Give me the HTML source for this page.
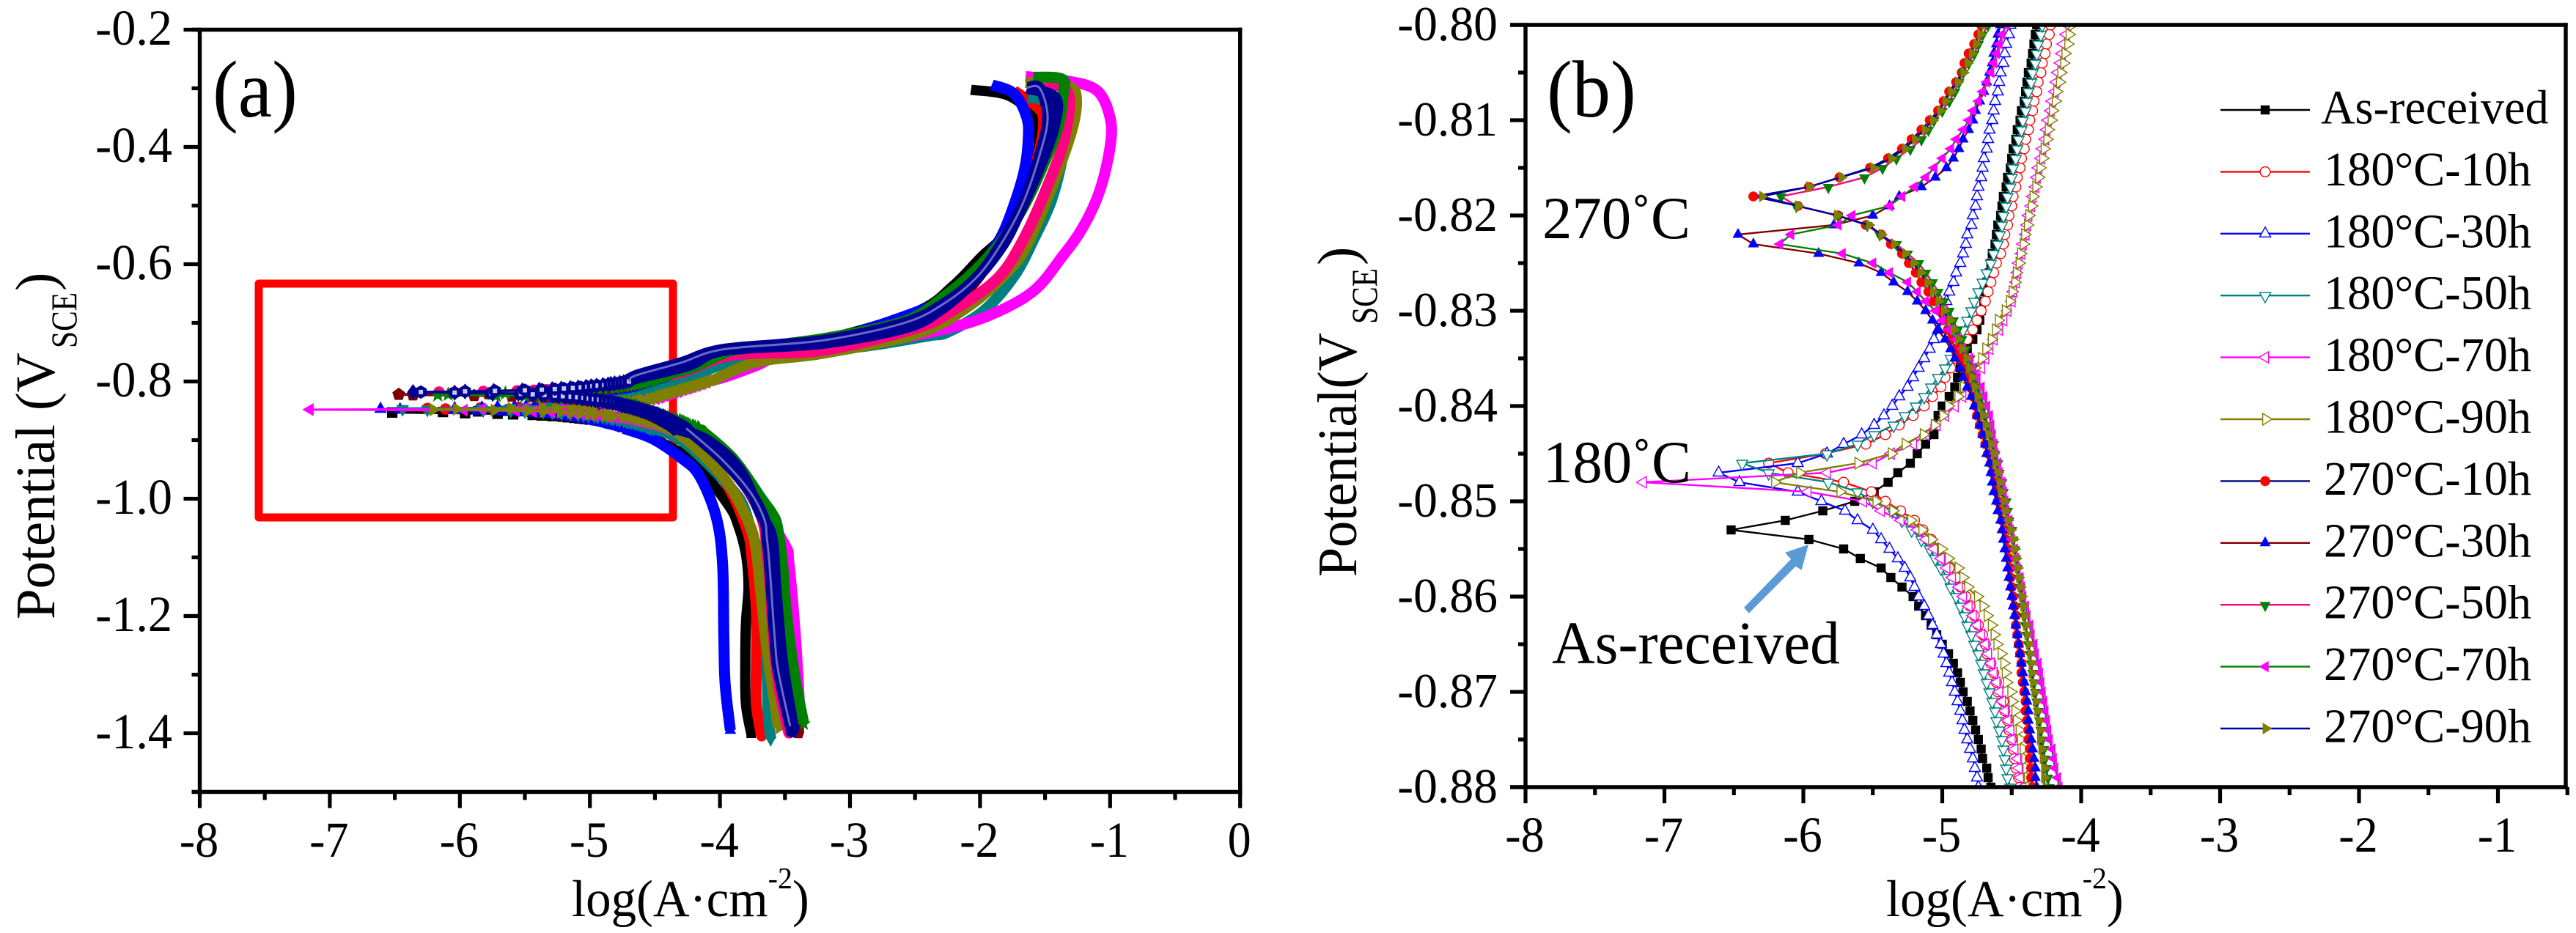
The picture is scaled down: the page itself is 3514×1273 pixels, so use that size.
<!DOCTYPE html>
<html lang="en">
<head>
<meta charset="utf-8">
<title>Potentiodynamic polarization curves</title>
<style>
html,body{margin:0;padding:0;background:#fff;width:3514px;height:1273px;overflow:hidden}
svg{display:block}
text{font-family:"Liberation Serif",serif;fill:#000}
</style>
</head>
<body>
<svg id="figure" xmlns="http://www.w3.org/2000/svg" width="3514" height="1273" viewBox="0 0 3514 1273">
  <rect width="3514" height="1273" fill="#fff"/>
  <defs>
    <clipPath id="plotb-clip"><rect x="2081" y="34" width="1419" height="1040"/></clipPath>
  </defs>
  <g id="panel-a">
    <rect x="353" y="387" width="565" height="319" fill="none" stroke="#ff0000" stroke-width="11" stroke-linejoin="round"/>
    <g id="a-series"></g>
    <g id="a-axes"></g>
    <text transform="translate(290,159) scale(.95,1)" font-size="110">(a)</text>
    <text transform="translate(74,845) rotate(-90) scale(.985,1)" font-size="76">Potential (V</text>
    <text transform="translate(104,475) rotate(-90) scale(.83,1)" font-size="50">SCE</text>
    <text transform="translate(74,397) rotate(-90)" font-size="76">)</text>
    <text transform="translate(780,1250) scale(.97,1)" font-size="71">log(A·cm<tspan font-size="41" dy="-38">-2</tspan><tspan dy="38">)</tspan></text>
  </g>
  <g id="panel-b">
    <g id="b-series" clip-path="url(#plotb-clip)"></g>
    <g id="b-axes"></g>
    <text transform="translate(2110,159) scale(.95,1)" font-size="110">(b)</text>
    <text transform="translate(2104,325) scale(.985,1)" font-size="82">270˚C</text>
    <text transform="translate(2105,658) scale(.985,1)" font-size="82">180˚C</text>
    <text transform="translate(2117,905) scale(.98,1)" font-size="83">As-received</text>
    <polygon fill="#5b9bd5" points="2467,743 2457.6,777.7 2449.5,772.7 2385.7,836.7 2379,829 2443,763 2435,754"/>
    <text transform="translate(1850,787) rotate(-90) scale(.95,1)" font-size="76">Potential(V</text>
    <text transform="translate(1878,442) rotate(-90) scale(.83,1)" font-size="50">SCE</text>
    <text transform="translate(1850,362) rotate(-90)" font-size="76">)</text>
    <text transform="translate(2573,1250) scale(.97,1)" font-size="71">log(A·cm<tspan font-size="41" dy="-38">-2</tspan><tspan dy="38">)</tspan></text>
    <g id="legend"></g>
  </g>
</svg>
<script>
/* ---------- Values: log current, one entry per 1 mV step ---------- */
const seriesLabels=["As-received","180°C-10h","180°C-30h","180°C-50h","180°C-70h","180°C-90h","270°C-10h","270°C-30h","270°C-50h","270°C-70h","270°C-90h"];
const seriesEcorr=[-0.853,-0.846,-0.847,-0.846,-0.848,-0.848,-0.818,-0.822,-0.818,-0.823,-0.818];
const stepV=0.001;

const asReceivedAnodic=[-6.52,-6.13,-5.86,-5.63,-5.49,-5.39,-5.32,-5.23,-5.18,-5.12,-5.06,-5.05,-5.03,-5.00,-4.95,-4.91,-4.89,-4.87,-4.85,-4.82,-4.78,-4.75,-4.73,-4.72,-4.70,-4.69,-4.68,-4.66,-4.65,-4.64,-4.62,-4.61,-4.60,-4.58,-4.57,-4.56,-4.54,-4.53,-4.51,-4.50,-4.49,-4.47,-4.46,-4.44,-4.43,-4.41,-4.40,-4.39,-4.38,-4.36,-4.35,-4.34,-4.33,-4.32];
const asReceivedCathodic=[-5.96,-5.71,-5.59,-5.44,-5.37,-5.29,-5.21,-5.17,-5.12,-5.08,-5.04,-5.00,-4.955,-4.92,-4.89,-4.87,-4.85,-4.82,-4.80,-4.78,-4.76,-4.74,-4.72,-4.71,-4.68,-4.67,-4.65];
const t180h10Anodic=[-6.25,-5.84,-5.55,-5.41,-5.31,-5.21,-5.13,-5.07,-5.01,-4.98,-4.94,-4.90,-4.86,-4.82,-4.78,-4.75,-4.72,-4.69,-4.67,-4.65,-4.63,-4.61,-4.58,-4.56,-4.55,-4.53,-4.52,-4.50,-4.49,-4.47,-4.46,-4.44,-4.43,-4.41,-4.40,-4.38,-4.37,-4.35,-4.34,-4.32,-4.31,-4.29,-4.28,-4.26,-4.25,-4.23,-4.22];
const t180h10Cathodic=[-6.11,-5.71,-5.51,-5.41,-5.30,-5.20,-5.14,-5.08,-5.03,-4.99,-4.95,-4.90,-4.87,-4.83,-4.80,-4.77,-4.74,-4.71,-4.69,-4.68,-4.65,-4.63,-4.61,-4.60,-4.56,-4.55,-4.53,-4.52,-4.50,-4.49,-4.48,-4.47,-4.45,-4.44];
const t180h30Anodic=[-6.61,-6.04,-5.83,-5.71,-5.58,-5.49,-5.42,-5.36,-5.31,-5.25,-5.21,-5.17,-5.13,-5.09,-5.06,-5.03,-5.00,-4.98,-4.97,-4.95,-4.92,-4.90,-4.87,-4.85,-4.83,-4.82,-4.79,-4.78,-4.76,-4.75,-4.74,-4.72,-4.71,-4.70,-4.68,-4.67,-4.66,-4.64,-4.63,-4.62,-4.60,-4.59,-4.58,-4.56,-4.55,-4.54,-4.52,-4.51];
const t180h30Cathodic=[-6.46,-6.04,-5.87,-5.70,-5.61,-5.50,-5.44,-5.38,-5.32,-5.27,-5.23,-5.20,-5.17,-5.13,-5.10,-5.07,-5.04,-5.01,-4.99,-4.97,-4.95,-4.93,-4.91,-4.89,-4.87,-4.855,-4.84,-4.82,-4.80,-4.78,-4.765,-4.75,-4.74];
const t180h50Anodic=[-6.44,-5.83,-5.61,-5.49,-5.35,-5.27,-5.19,-5.13,-5.08,-5.03,-4.98,-4.94,-4.90,-4.87,-4.85,-4.82,-4.79,-4.77,-4.74,-4.71,-4.68,-4.65,-4.63,-4.60,-4.585,-4.57,-4.56,-4.54,-4.53,-4.51,-4.50,-4.49,-4.47,-4.46,-4.45,-4.43,-4.42,-4.40,-4.39,-4.38,-4.36,-4.35,-4.33,-4.32,-4.31,-4.29,-4.28];
const t180h50Cathodic=[-6.25,-5.82,-5.61,-5.50,-5.36,-5.29,-5.22,-5.15,-5.09,-5.05,-5.01,-4.965,-4.94,-4.90,-4.87,-4.84,-4.82,-4.79,-4.77,-4.74,-4.72,-4.70,-4.68,-4.66,-4.64,-4.62,-4.61,-4.59,-4.57,-4.56,-4.55,-4.54,-4.53,-4.51];
const t180h70Anodic=[-7.155,-5.83,-5.50,-5.37,-5.21,-5.12,-5.04,-4.98,-4.91,-4.855,-4.82,-4.78,-4.72,-4.69,-4.66,-4.63,-4.59,-4.56,-4.53,-4.50,-4.49,-4.47,-4.46,-4.45,-4.43,-4.42,-4.40,-4.39,-4.38,-4.36,-4.35,-4.33,-4.32,-4.31,-4.29,-4.28,-4.26,-4.25,-4.24,-4.22,-4.21,-4.19,-4.18,-4.17,-4.15,-4.14,-4.13,-4.11,-4.10];
const t180h70Cathodic=[-5.97,-5.57,-5.44,-5.30,-5.18,-5.12,-5.06,-5.01,-4.97,-4.93,-4.88,-4.85,-4.81,-4.78,-4.75,-4.72,-4.69,-4.67,-4.65,-4.63,-4.61,-4.59,-4.57,-4.55,-4.53,-4.51,-4.50,-4.48,-4.46,-4.45,-4.44,-4.42];
const t180h90Anodic=[-6.21,-6.03,-5.61,-5.37,-5.27,-5.14,-5.06,-5.00,-4.96,-4.89,-4.85,-4.81,-4.77,-4.72,-4.69,-4.65,-4.62,-4.60,-4.55,-4.52,-4.50,-4.48,-4.47,-4.45,-4.44,-4.42,-4.41,-4.39,-4.38,-4.36,-4.35,-4.33,-4.31,-4.30,-4.28,-4.27,-4.25,-4.24,-4.22,-4.21,-4.19,-4.18,-4.16,-4.15,-4.13,-4.12,-4.10,-4.09,-4.07];
const t180h90Cathodic=[-5.74,-5.48,-5.36,-5.23,-5.15,-5.08,-5.01,-4.96,-4.89,-4.855,-4.82,-4.75,-4.71,-4.68,-4.65,-4.63,-4.61,-4.58,-4.56,-4.55,-4.54,-4.51,-4.50,-4.48,-4.47,-4.45,-4.44,-4.42,-4.41,-4.40,-4.39,-4.38];
const t270h10Anodic=[-6.36,-5.96,-5.74,-5.52,-5.39,-5.29,-5.22,-5.15,-5.09,-5.03,-4.99,-4.95,-4.90,-4.86,-4.84,-4.81,-4.77,-4.74,-4.72];
const t270h10Cathodic=[-6.04,-5.75,-5.55,-5.44,-5.37,-5.29,-5.24,-5.19,-5.15,-5.10,-5.06,-5.02,-4.99,-4.96,-4.94,-4.90,-4.87,-4.85,-4.82,-4.80,-4.78,-4.76,-4.75,-4.73,-4.71,-4.69,-4.67,-4.65,-4.64,-4.62,-4.61,-4.60,-4.58,-4.57,-4.55,-4.54,-4.53,-4.52,-4.51,-4.51,-4.50,-4.49,-4.48,-4.47,-4.47,-4.46,-4.45,-4.44,-4.43,-4.43,-4.42,-4.41,-4.40,-4.40,-4.39,-4.38,-4.38,-4.37,-4.37,-4.36,-4.36,-4.35];
const t270h30Anodic=[-6.47,-5.78,-5.50,-5.38,-5.31,-5.15,-5.05,-4.97,-4.92,-4.88,-4.85,-4.81,-4.78,-4.76,-4.73,-4.70,-4.68,-4.66,-4.64,-4.63,-4.61,-4.60,-4.58];
const t270h30Cathodic=[-6.36,-5.89,-5.60,-5.44,-5.35,-5.25,-5.18,-5.12,-5.07,-5.03,-4.98,-4.94,-4.91,-4.87,-4.85,-4.82,-4.79,-4.77,-4.75,-4.73,-4.71,-4.69,-4.68,-4.66,-4.65,-4.64,-4.63,-4.61,-4.60,-4.58,-4.57,-4.56,-4.55,-4.54,-4.53,-4.52,-4.51,-4.50,-4.49,-4.48,-4.47,-4.46,-4.45,-4.44,-4.43,-4.42,-4.41,-4.40,-4.39,-4.38,-4.38,-4.37,-4.36,-4.35,-4.34,-4.33,-4.33,-4.32];
const t270h50Anodic=[-6.16,-5.82,-5.56,-5.43,-5.33,-5.23,-5.15,-5.10,-5.06,-5.00,-4.95,-4.91,-4.88,-4.85,-4.81,-4.77,-4.74,-4.71,-4.67];
const t270h50Cathodic=[-6.05,-5.75,-5.54,-5.45,-5.33,-5.25,-5.17,-5.12,-5.07,-5.03,-4.99,-4.95,-4.92,-4.89,-4.86,-4.83,-4.80,-4.78,-4.76,-4.74,-4.72,-4.70,-4.69,-4.67,-4.65,-4.63,-4.62,-4.60,-4.59,-4.57,-4.56,-4.54,-4.53,-4.52,-4.50,-4.49,-4.48,-4.47,-4.46,-4.45,-4.44,-4.43,-4.42,-4.41,-4.40,-4.39,-4.38,-4.37,-4.36,-4.35,-4.34,-4.33,-4.32,-4.31,-4.30,-4.29,-4.28,-4.27,-4.26,-4.25,-4.24,-4.23];
const t270h70Anodic=[-6.17,-6.09,-5.75,-5.65,-5.38,-5.29,-5.20,-5.12,-5.06,-5.00,-4.94,-4.90,-4.85,-4.81,-4.78,-4.74,-4.71,-4.68,-4.65,-4.63,-4.61,-4.59,-4.57,-4.54];
const t270h70Cathodic=[-5.72,-5.50,-5.38,-5.25,-5.18,-5.12,-5.05,-5.00,-4.95,-4.90,-4.855,-4.80,-4.78,-4.75,-4.72,-4.70,-4.68,-4.66,-4.65,-4.64,-4.63,-4.62,-4.60,-4.59,-4.57,-4.56,-4.55,-4.54,-4.52,-4.51,-4.50,-4.48,-4.47,-4.46,-4.44,-4.43,-4.42,-4.40,-4.39,-4.37,-4.36,-4.34,-4.33,-4.31,-4.30,-4.29,-4.28,-4.27,-4.26,-4.25,-4.24,-4.23,-4.21,-4.20,-4.19,-4.17,-4.16];
const t270h90Anodic=[-6.30,-5.96,-5.73,-5.50,-5.37,-5.27,-5.20,-5.13,-5.07,-5.02,-4.98,-4.94,-4.89,-4.85,-4.82,-4.79,-4.76,-4.73,-4.70];
const t270h90Cathodic=[-6.04,-5.76,-5.53,-5.44,-5.35,-5.27,-5.21,-5.16,-5.11,-5.07,-5.03,-4.99,-4.95,-4.92,-4.89,-4.86,-4.83,-4.81,-4.79,-4.77,-4.75,-4.73,-4.71,-4.69,-4.67,-4.65,-4.63,-4.62,-4.60,-4.59,-4.58,-4.56,-4.55,-4.53,-4.51,-4.49,-4.48,-4.47,-4.46,-4.45,-4.44,-4.43,-4.42,-4.41,-4.40,-4.39,-4.38,-4.37,-4.36,-4.36,-4.35,-4.34,-4.33,-4.32,-4.31,-4.30,-4.30,-4.29,-4.28,-4.27,-4.27,-4.26];

/* ---------- Values (a) beyond the zoomed window: [log current, potential] ---------- */
const asReceivedFarUp=[[-4.15,-.775],[-3.97,-.75],[-3.2,-.728],[-2.49,-.681],[-2.21,-.6375],[-1.99,-.5875],[-1.82,-.55],[-1.65,-.475],[-1.55,-.40],[-1.59,-.35],[-1.78,-.3125],[-2.07,-.3025]];
const asReceivedFarDown=[[-4.41,-.909],[-4.20,-.9375],[-3.94,-1.009],[-3.86,-1.045],[-3.80,-1.095],[-3.78,-1.15],[-3.80,-1.2125],[-3.805,-1.284],[-3.80,-1.35],[-3.76,-1.40]];
const t180h10FarUp=[[-4.05,-.775],[-3.8,-.75],[-3.21,-.732],[-2.32,-.675],[-2.04,-.619],[-1.82,-.566],[-1.65,-.484],[-1.55,-.4125],[-1.51,-.359],[-1.55,-.334],[-1.74,-.304]];
const t180h10FarDown=[[-4.2,-.915],[-3.95,-.975],[-3.79,-1.054],[-3.75,-1.109],[-3.72,-1.191],[-3.72,-1.275],[-3.72,-1.35],[-3.68,-1.405]];
const t180h30FarUp=[[-4.16,-.767],[-3.97,-.747],[-3.21,-.732],[-2.31,-.666],[-2.12,-.634],[-1.95,-.591],[-1.83,-.55],[-1.74,-.50],[-1.66,-.441],[-1.63,-.391],[-1.64,-.35],[-1.74,-.309],[-1.91,-.294]];
const t180h30FarDown=[[-4.52,-.8975],[-4.30,-.93],[-4.16,-.96],[-4.03,-1.03],[-3.98,-1.11],[-3.97,-1.234],[-3.96,-1.316],[-3.92,-1.395]];
const t180h50FarUp=[[-3.97,-.77],[-3.52,-.752],[-2.89,-.74],[-2.39,-.722],[-2.25,-.716],[-1.97,-.679],[-1.74,-.621],[-1.59,-.559],[-1.44,-.484],[-1.35,-.391],[-1.40,-.34],[-1.52,-.32],[-1.63,-.315]];
const t180h50FarDown=[[-4.3,-.9],[-4.05,-.95],[-3.85,-1.0],[-3.77,-1.046],[-3.69,-1.109],[-3.66,-1.191],[-3.64,-1.275],[-3.63,-1.359],[-3.61,-1.41]];
const t180h70FarUp=[[-3.97,-.793],[-3.72,-.773],[-3.53,-.757],[-2.89,-.737],[-2.31,-.7125],[-1.93,-.6875],[-1.59,-.646],[-1.37,-.5875],[-1.21,-.5375],[-1.08,-.475],[-1.0,-.40],[-1.0,-.35],[-1.10,-.304],[-1.33,-.2875],[-1.65,-.28]];
const t180h70FarDown=[[-4.2,-.895],[-3.95,-.94],[-3.7,-1.01],[-3.50,-1.079],[-3.47,-1.109],[-3.42,-1.234],[-3.38,-1.385]];
const t180h90FarUp=[[-3.72,-.767],[-3.21,-.752],[-2.49,-.719],[-2.11,-.675],[-1.80,-.616],[-1.61,-.554],[-1.32,-.391],[-1.26,-.314],[-1.36,-.295],[-1.65,-.29]];
const t180h90FarDown=[[-4.2,-.91],[-3.95,-.97],[-3.8,-1.03],[-3.73,-1.075],[-3.69,-1.15],[-3.65,-1.234],[-3.60,-1.316],[-3.55,-1.391]];
const t270h10FarUp=[[-4.63,-.794],[-4.24,-.7725],[-3.97,-.747],[-3.21,-.735],[-2.58,-.709],[-2.31,-.679],[-2.03,-.625],[-1.82,-.566],[-1.69,-.509],[-1.54,-.434],[-1.43,-.366],[-1.42,-.316],[-1.64,-.30]];
const t270h10FarDown=[[-4.1,-.90],[-3.85,-.95],[-3.69,-1.025],[-3.60,-1.066],[-3.57,-1.15],[-3.52,-1.275],[-3.43,-1.396]];
const t270h30FarUp=[[-3.97,-.75],[-3.2,-.735],[-2.3,-.68],[-1.85,-.57],[-1.55,-.44],[-1.42,-.34],[-1.55,-.30]];
const t270h30FarDown=[[-4.15,-.895],[-3.9,-.945],[-3.70,-1.02],[-3.60,-1.1],[-3.53,-1.2],[-3.45,-1.31],[-3.395,-1.40]];
const t270h50FarUp=[[-4.3,-.785],[-3.9,-.755],[-3.21,-.747],[-2.49,-.709],[-2.21,-.679],[-1.87,-.625],[-1.67,-.559],[-1.48,-.466],[-1.35,-.384],[-1.32,-.309],[-1.5,-.29]];
const t270h50FarDown=[[-4.0,-.92],[-3.7,-1.02],[-3.63,-1.11],[-3.59,-1.234],[-3.55,-1.316],[-3.47,-1.40]];
const t270h70FarUp=[[-4.35,-.785],[-4.2,-.775],[-4.0,-.755],[-3.85,-.745],[-3.21,-.727],[-2.58,-.697],[-2.27,-.654],[-2.03,-.609],[-1.83,-.559],[-1.66,-.5],[-1.52,-.434],[-1.40,-.366],[-1.36,-.309],[-1.37,-.284],[-1.59,-.281]];
const t270h70FarDown=[[-3.90,-.931],[-3.68,-1.0],[-3.60,-1.025],[-3.56,-1.046],[-3.52,-1.109],[-3.49,-1.191],[-3.43,-1.296],[-3.355,-1.384]];
const t270h90FarUp=[[-4.65,-.79],[-4.3,-.768],[-3.97,-.745],[-3.21,-.73],[-2.58,-.70],[-2.27,-.666],[-2.02,-.621],[-1.83,-.5625],[-1.67,-.496],[-1.54,-.4125],[-1.48,-.35],[-1.54,-.30],[-1.64,-.299]];
const t270h90FarDown=[[-4.20,-.891],[-3.98,-.934],[-3.77,-.9875],[-3.66,-1.034],[-3.64,-1.066],[-3.62,-1.109],[-3.58,-1.234],[-3.55,-1.296],[-3.45,-1.3975]];

/* ---------- Tick labels ---------- */
const aXTicks=[-8,-7,-6,-5,-4,-3,-2,-1,0];
const aYTicks=[-0.2,-0.4,-0.6,-0.8,-1.0,-1.2,-1.4];
const aYMinor=[-0.3,-0.5,-0.7,-0.9,-1.1,-1.3,-1.5];
const aXMinor=[-7.5,-6.5,-5.5,-4.5,-3.5,-2.5,-1.5,-0.5];
const bXTicks=[-8,-7,-6,-5,-4,-3,-2,-1];
const bXMinor=[-7.5,-6.5,-5.5,-4.5,-3.5,-2.5,-1.5,-0.5];
const bYTicks=[-0.80,-0.81,-0.82,-0.83,-0.84,-0.85,-0.86,-0.87,-0.88];
const bYMinor=[-0.805,-0.815,-0.825,-0.835,-0.845,-0.855,-0.865,-0.875];

/* ---------- Axis functions ---------- */
const ax=v=>272.5+(v+8)*177.4;
const ay=v=>40.5+(-0.2-v)*800;
const bx=v=>2081+(v+8)*189.5;
const by=v=>34+(-0.8-v)*13000;

const NS='http://www.w3.org/2000/svg';
function mk(tag,parent,attrs){
  const el=document.createElementNS(NS,tag);
  for(const k in attrs)el.setAttribute(k,attrs[k]);
  parent.appendChild(el);
  return el;
}

function addMarker(parent,sym,cx,cy,k,fill,stroke,sw,name){
  let el;
  const attrs={fill:fill,stroke:stroke,'stroke-width':sw};
  const poly=pts=>pts.map(p=>(cx+p[0]*k).toFixed(1)+','+(cy+p[1]*k).toFixed(1)).join(' ');
  if(sym==='square'){
    el=mk('rect',parent,Object.assign({x:cx-6.2*k,y:cy-6.2*k,width:12.4*k,height:12.4*k},attrs));
  }else if(sym==='circle'){
    el=mk('circle',parent,Object.assign({cx:cx,cy:cy,r:6.8*k},attrs));
  }else{
    const shapes={
      up:[[0,-9],[7.5,4.5],[-7.5,4.5]],
      down:[[-7.5,-4],[7.5,-4],[0,10]],
      left:[[-8.6,0],[4.7,-7.7],[4.7,7.7]],
      right:[[-3.4,-8],[9.4,0],[-3.4,8]],
      pentagon:[[0,-8],[7.6,-2.4],[4.7,6.5],[-4.7,6.5],[-7.6,-2.4]],
      hexagon:[[0,-8],[7,-4],[7,4],[0,8],[-7,4],[-7,-4]],
      diamond:[[0,-9.5],[7,0],[0,9.5],[-7,0]],
      star:[[0,-9.5],[2.4,-3],[9,-3],[3.8,1.2],[5.6,8],[0,4],[-5.6,8],[-3.8,1.2],[-9,-3],[-2.4,-3]]
    };
    el=mk('polygon',parent,Object.assign({points:poly(shapes[sym])},attrs));
  }
  
  
  return el;
}

function tickLabel(parent,x,y,str,size,anchor,sx,name){
  const t=mk('text',parent,{transform:'translate('+x+','+y+') scale('+sx+',1)','font-size':size,'text-anchor':anchor});
  t.textContent=str;
  
  
  return t;
}
function axisLine(parent,x1,y1,x2,y2,w,name){
  const l=mk('line',parent,{x1:x1,y1:y1,x2:x2,y2:y2,stroke:'#000','stroke-width':w});
  
  
  return l;
}

/* ---------- Series wiring ---------- */
const anodicSets=[asReceivedAnodic,t180h10Anodic,t180h30Anodic,t180h50Anodic,t180h70Anodic,t180h90Anodic,t270h10Anodic,t270h30Anodic,t270h50Anodic,t270h70Anodic,t270h90Anodic];
const cathodicSets=[asReceivedCathodic,t180h10Cathodic,t180h30Cathodic,t180h50Cathodic,t180h70Cathodic,t180h90Cathodic,t270h10Cathodic,t270h30Cathodic,t270h50Cathodic,t270h70Cathodic,t270h90Cathodic];
const farUpSets=[asReceivedFarUp,t180h10FarUp,t180h30FarUp,t180h50FarUp,t180h70FarUp,t180h90FarUp,t270h10FarUp,t270h30FarUp,t270h50FarUp,t270h70FarUp,t270h90FarUp];
const farDownSets=[asReceivedFarDown,t180h10FarDown,t180h30FarDown,t180h50FarDown,t180h70FarDown,t180h90FarDown,t270h10FarDown,t270h30FarDown,t270h50FarDown,t270h70FarDown,t270h90FarDown];

function anodicPoints(i){return anodicSets[i].map((v,n)=>[v,seriesEcorr[i]+n*stepV]);}
function cathodicPoints(i){return cathodicSets[i].map((v,n)=>[v,seriesEcorr[i]-(n+1)*stepV]);}

/* panel (b) styles, in legend order */
const bStyle=[
 {line:'#000000',sym:'square',fill:'#000000',edge:'#000000'},
 {line:'#ff0000',sym:'circle',fill:'#ffffff',edge:'#ff0000'},
 {line:'#0000ff',sym:'up',fill:'#ffffff',edge:'#0000ff'},
 {line:'#008080',sym:'down',fill:'#ffffff',edge:'#008080'},
 {line:'#ff00ff',sym:'left',fill:'#ffffff',edge:'#ff00ff'},
 {line:'#808000',sym:'right',fill:'#ffffff',edge:'#808000'},
 {line:'#000080',sym:'circle',fill:'#ff0000',edge:'#ff0000'},
 {line:'#800000',sym:'up',fill:'#0000ff',edge:'#0000ff'},
 {line:'#ff0080',sym:'down',fill:'#008000',edge:'#008000'},
 {line:'#008000',sym:'left',fill:'#ff00ff',edge:'#ff00ff'},
 {line:'#0000a0',sym:'right',fill:'#808000',edge:'#808000'}
];
/* panel (a) draw order and styles: index into the data sets */
const aOrder=[0,1,2,3,4,5,7,8,9,6,10];
const aStyle={
 0:{c:'#000000',sym:'square',w:14},
 1:{c:'#ff0000',sym:'circle',w:15},
 2:{c:'#0000ff',sym:'up',w:15},
 3:{c:'#008080',sym:'down',w:15},
 4:{c:'#ff00ff',sym:'left',w:15},
 5:{c:'#808000',sym:'right',w:15},
 7:{c:'#800000',sym:'pentagon',w:15},
 8:{c:'#ff0080',sym:'circle',w:15},
 9:{c:'#008000',sym:'star',w:15},
 6:{c:'#000090',sym:'diamond',w:15},
 10:{c:'#000090',sym:'hexagon',w:15,inner:'#c9c9f0',core:'#6a6ac8'}
};
const toPts=(pts,fx,fy)=>pts.map(p=>fx(p[0]).toFixed(1)+','+fy(p[1]).toFixed(1)).join(' ');

/* smooth curve through the read points */
function smoothPath(pts,fx,fy){
  const P=pts.map(p=>[fx(p[0]),fy(p[1])]);
  let d='M'+P[0][0].toFixed(1)+' '+P[0][1].toFixed(1);
  for(let i=0;i<P.length-1;i++){
    const a=P[Math.max(i-1,0)],b=P[i],c=P[i+1],e=P[Math.min(i+2,P.length-1)];
    const c1=[b[0]+(c[0]-a[0])/6,b[1]+(c[1]-a[1])/6];
    const c2=[c[0]-(e[0]-b[0])/6,c[1]-(e[1]-b[1])/6];
    d+='C'+c1[0].toFixed(1)+' '+c1[1].toFixed(1)+' '+c2[0].toFixed(1)+' '+c2[1].toFixed(1)+' '+c[0].toFixed(1)+' '+c[1].toFixed(1);
  }
  return d;
}

/* ---------- Panel (a) ---------- */
const aSeriesRoot=document.getElementById('a-series');
aOrder.forEach(function(i){
  const st=aStyle[i];
  const slug=seriesLabels[i].replace('°C-','c-').toLowerCase();
  const g=mk('g',aSeriesRoot,{});
  
  
  const up=anodicPoints(i), down=cathodicPoints(i);
  const window=down.slice().reverse().concat(up);
  const thin=mk('polyline',g,{points:toPts(window,ax,ay),fill:'none',stroke:st.c,'stroke-width':3});
  
  
  const upPath=[up[up.length-1]].concat(farUpSets[i]);
  const downPath=[down[down.length-1]].concat(farDownSets[i]);
  [upPath,downPath].forEach(function(path){
    const thick=mk('path',g,{d:smoothPath(path,ax,ay),fill:'none',stroke:st.c,'stroke-width':st.w,'stroke-linejoin':'round'});
    
    
  });
  window.forEach(function(p){
    addMarker(g,st.sym,ax(p[0]),ay(p[1]),1.15,st.c,'none',0,'panel-a-point');
    if(st.inner){
      const c=mk('rect',g,{x:ax(p[0])-3,y:ay(p[1])-3,width:6,height:6,fill:st.inner});
      
      
    }
  });
  if(st.core){
    [upPath,downPath].forEach(function(path){
      const core=mk('path',g,{d:smoothPath(path,ax,ay),fill:'none',stroke:st.core,'stroke-width':3});
      
      
    });
  }
  const endUp=farDownSets[i][farDownSets[i].length-1];
  addMarker(g,st.sym,ax(endUp[0]),ay(endUp[1]),1.05,st.c,'none',0,'panel-a-end-point');
});

/* panel (a) axes */
const aAxes=document.getElementById('a-axes');
const aL=ax(-8),aR=ax(0),aT=ay(-0.2),aB=ay(-1.5);
axisLine(aAxes,aL,aT-2.7,aL,aB+2.7,5.4,'panel-a-left-axis');
axisLine(aAxes,aR,aT-2.7,aR,aB+2.7,5.4,'panel-a-right-axis');
axisLine(aAxes,aL-11,aT,aR+2.7,aT,5.4,'panel-a-top-axis');
axisLine(aAxes,aL-11,aB,aR+2.7,aB,5.4,'panel-a-bottom-axis');
aYTicks.forEach(function(v){
  axisLine(aAxes,aL-22,ay(v),aL,ay(v),5.2,'panel-a-y-tick');
  tickLabel(aAxes,235,ay(v)+20.5,v.toFixed(1),69,'end',.96,'panel-a-y-tick-label');
});
aYMinor.forEach(function(v){axisLine(aAxes,aL-11,ay(v),aL,ay(v),5.2,'panel-a-y-minor-tick');});
aXTicks.forEach(function(v){
  axisLine(aAxes,ax(v),aB,ax(v),aB+22,5.2,'panel-a-x-tick');
  tickLabel(aAxes,ax(v)-1,1169,String(v),69,'middle',.93,'panel-a-x-tick-label');
});
aXMinor.forEach(function(v){axisLine(aAxes,ax(v),aB,ax(v),aB+11,5.2,'panel-a-x-minor-tick');});

/* ---------- Panel (b) ---------- */
const bSeriesRoot=document.getElementById('b-series');
seriesLabels.forEach(function(label,i){
  const st=bStyle[i];
  const slug=label.replace('°C-','c-').toLowerCase();
  const g=mk('g',bSeriesRoot,{});
  
  
  const pts=cathodicPoints(i).reverse().concat(anodicPoints(i));
  const line=mk('polyline',g,{points:toPts(pts,bx,by),fill:'none',stroke:st.line,'stroke-width':2.4});
  
  
  pts.forEach(function(p){
    addMarker(g,st.sym,bx(p[0]),by(p[1]),1,st.fill,st.edge,st.fill==='#ffffff'?1.4:0,'panel-b-point');
  });
});

/* panel (b) axes */
const bAxes=document.getElementById('b-axes');
const bL=bx(-8),bR=3500,bT=by(-0.80),bB=by(-0.88);
axisLine(bAxes,bL,bT-2.7,bL,bB+2.7,5.4,'panel-b-left-axis');
axisLine(bAxes,bR,bT-2.7,bR,bB+2.7,5.4,'panel-b-right-axis');
axisLine(bAxes,bL-21,bT,bR+2.7,bT,5.4,'panel-b-top-axis');
axisLine(bAxes,bL-21,bB,bR+2.7,bB,5.4,'panel-b-bottom-axis');
bYTicks.forEach(function(v){
  axisLine(bAxes,bL-21,by(v),bL,by(v),5.2,'panel-b-y-tick');
  tickLabel(bAxes,2043,by(v)+21,v.toFixed(2),67,'end',.98,'panel-b-y-tick-label');
});
bYMinor.forEach(function(v){axisLine(bAxes,bL-10,by(v),bL,by(v),5.2,'panel-b-y-minor-tick');});
bXTicks.forEach(function(v){
  axisLine(bAxes,bx(v),bB,bx(v),bB+22,5.2,'panel-b-x-tick');
  tickLabel(bAxes,bx(v)-1,1162,String(v),69,'middle',.93,'panel-b-x-tick-label');
});
bXMinor.forEach(function(v){axisLine(bAxes,bx(v),bB,bx(v),bB+11,5.2,'panel-b-x-minor-tick');});

/* legend */
const legendRoot=document.getElementById('legend');
seriesLabels.forEach(function(label,i){
  const st=bStyle[i];
  const yy=150+i*84.4;
  const g=mk('g',legendRoot,{});
  
  
  const l=mk('line',g,{x1:3029,x2:3151,y1:yy,y2:yy,stroke:st.line,'stroke-width':2.4});
  
  
  addMarker(g,st.sym,3090,yy,1,st.fill,st.edge,st.fill==='#ffffff'?1.4:0,'legend-marker');
  tickLabel(g,i===0?3166:3170,yy+18.5,label,66,'start',.975,'legend-label');
});
</script>
</body>
</html>
